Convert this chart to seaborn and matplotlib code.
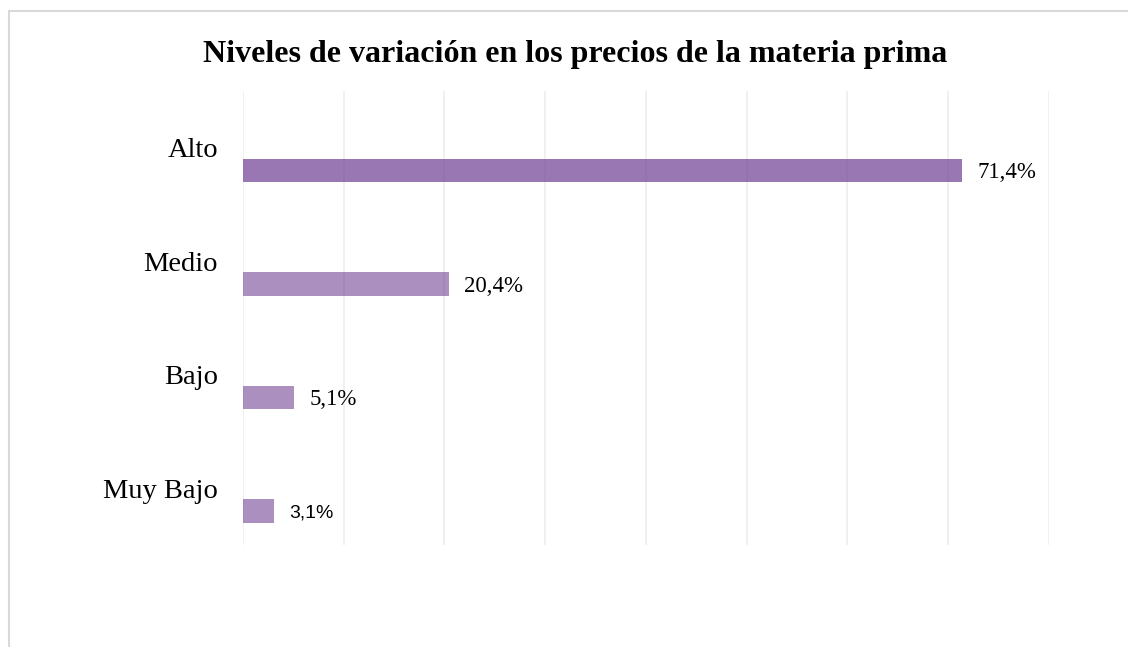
import pandas as pd
import seaborn as sns
import matplotlib.pyplot as plt
from matplotlib.patches import Rectangle

niveles = ["Alto", "Medio", "Bajo", "Muy Bajo"]
porcentajes = [71.4, 20.4, 5.1, 3.1]
etiquetas = ["71,4%", "20,4%", "5,1%", "3,1%"]

# Excel deja la barra corrida hacia abajo: serie vacía + serie real
df = pd.DataFrame({
    "nivel": niveles * 2,
    "valor": [0] * len(niveles) + porcentajes,
    "serie": ["vacía"] * len(niveles) + ["Porcentaje"] * len(niveles),
})

sns.set_style("white")
plt.rcParams['font.family'] = ['Liberation Serif', 'DejaVu Serif']
plt.rcParams['text.color'] = 'black'

fig = plt.figure(figsize=(11.28, 6.47), dpi=100)
ax = fig.add_axes([243 / 1128, 1 - 545 / 647, 806 / 1128, 454 / 647])

sns.barplot(data=df, x="valor", y="nivel", hue="serie", order=niveles,
            hue_order=["vacía", "Porcentaje"], dodge=True, gap=0.475,
            palette=["#7030A0", "#7030A0"], linewidth=0, legend=False, ax=ax)

bars = ax.containers[1]
for i, patch in enumerate(bars):
    patch.set_alpha(0.7 if i == 0 else 0.58)

textos = ax.bar_label(bars, labels=etiquetas, padding=11, fontsize=16.5, color="black")
for t in textos:
    t.set_verticalalignment("center_baseline")
textos[3].set_fontfamily("Liberation Sans")
textos[3].set_fontsize(14)

ax.set_xlim(0, 80)
ax.set_ylim(3.5, -0.5)
ax.set_xticks(range(0, 81, 10))
ax.set_xticklabels([])
ax.grid(axis="x", color="#EEEEEE", linewidth=1.2)
ax.set_axisbelow(True)
ax.set_xlabel("")
ax.set_ylabel("")
ax.tick_params(axis="y", length=0, pad=18, labelsize=20.5, labelcolor="black")
ax.tick_params(axis="x", length=0)
sns.despine(ax=ax, left=True, bottom=True)

fig.text(575.5 / 1128, 1 - 62 / 647, "Niveles de variación en los precios de la materia prima",
         ha="center", va="baseline", fontsize=23, fontweight="bold", color="black")

fig.patches.append(Rectangle((9 / 1128, -0.1), 1.2, 1.1 - 11 / 647, transform=fig.transFigure,
                             fill=False, edgecolor="#D9D9D9", linewidth=1.5))

plt.savefig("out.png", dpi=100)
